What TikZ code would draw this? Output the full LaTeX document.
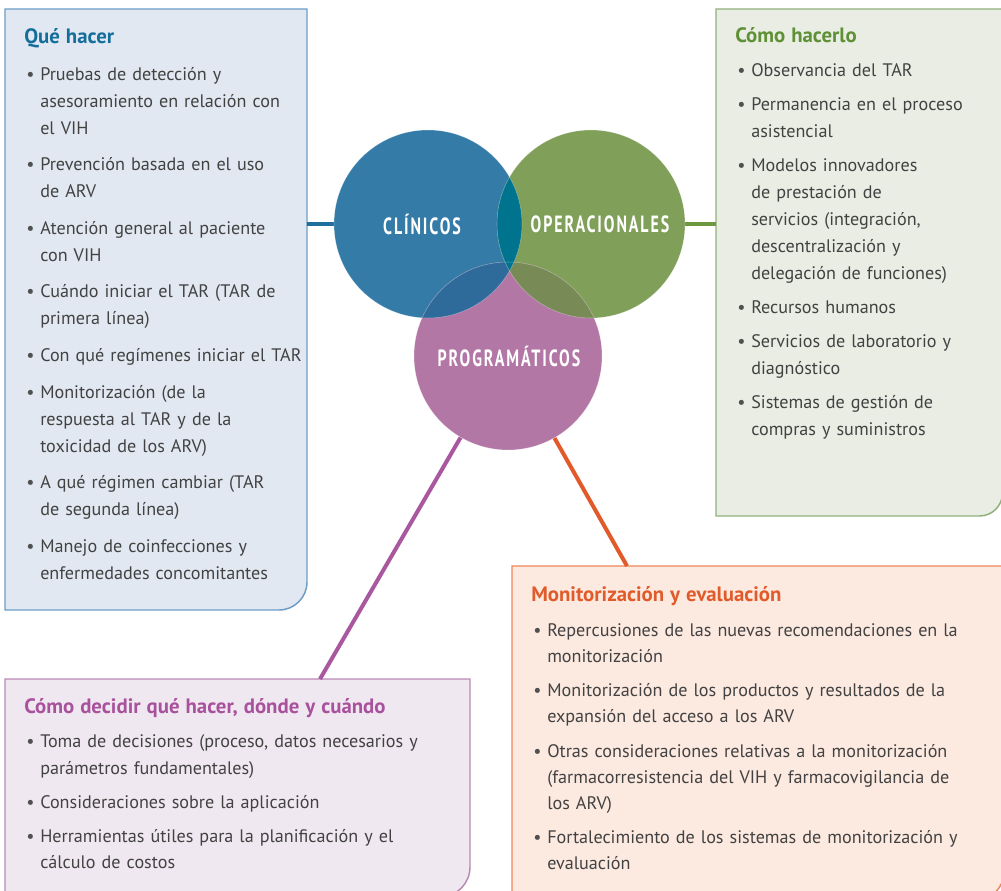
\documentclass[tikz,border=0pt]{standalone}
\usepackage{fontspec}
\setmainfont{PT Sans}
\newfontfamily\capsfont[LetterSpace=12]{PT Sans}
\usetikzlibrary{positioning}

\definecolor{txtgray}{HTML}{424242}
\definecolor{bulgray}{HTML}{505050}
\definecolor{qhfill}{HTML}{E1E8F1}
\definecolor{qhline}{HTML}{6C9DC6}
\definecolor{qhtitle}{HTML}{146E9C}
\definecolor{chfill}{HTML}{EAEDE4}
\definecolor{chline}{HTML}{8FB07C}
\definecolor{chtitle}{HTML}{5E9035}
\definecolor{mefill}{HTML}{FCE9E0}
\definecolor{meline}{HTML}{EE8759}
\definecolor{metitle}{HTML}{E15B2A}
\definecolor{cdfill}{HTML}{F0E8F0}
\definecolor{cdline}{HTML}{BA88B3}
\definecolor{cdtitle}{HTML}{A8519C}
\definecolor{clincol}{HTML}{357BA8}
\definecolor{opercol}{HTML}{809F58}
\definecolor{progcol}{HTML}{B377A6}
\definecolor{cgcol}{HTML}{00748E}
\definecolor{cpcol}{HTML}{2E6A9A}
\definecolor{gpcol}{HTML}{788A56}
\definecolor{linkblue}{HTML}{1F6E9E}
\definecolor{linkgreen}{HTML}{6E983F}
\definecolor{linkpurple}{HTML}{A9579F}
\definecolor{linkorange}{HTML}{E2592A}

\newlength\itmgap
\newcommand\ttl[2]{{\fontsize{15.6pt}{20pt}\selectfont\bfseries\textcolor{#1}{#2}}}
\newcommand\itm[1]{\par\vspace{\itmgap}\hangindent=12pt\hangafter=1\noindent
  \hbox to 12pt{\hspace{1.6pt}\textcolor{bulgray}{\textbullet}\hss}#1\par}
\newcommand\circtxt[2]{\scalebox{#1}[1]{#2}}

\begin{document}
\begin{tikzpicture}[x=0.75pt, y=0.75pt,
    circ/.style={circle, inner sep=0pt, minimum size=141pt},
    listtext/.style 2 args={anchor=base west, inner sep=0pt, text width=360pt,
        text=txtgray, font=\fontsize{13.6pt}{#1}\selectfont\setlength{\itmgap}{#2}},
    boxline/.style={line width=1.1pt},
    link/.style={line width=3pt},
    circlbl/.style={text=white, inner sep=0pt,
        font=\capsfont\bfseries\fontsize{17.6pt}{17.6pt}\selectfont},
]
\useasboundingbox (0,0) rectangle (1001,-891);

% ---- boxes ----
\filldraw[boxline, draw=qhline, fill=qhfill] (5,-9) -- (307,-9) -- (307,-582)
    arc[start angle=0, end angle=-90, radius=28] -- (5,-610) -- cycle;
\filldraw[boxline, draw=chline, fill=chfill] (716,-9) -- (1002.5,-9) -- (1002.5,-493)
    arc[start angle=0, end angle=-90, radius=23] -- (716,-516) -- cycle;
\filldraw[boxline, draw=meline, fill=mefill] (512,-566) -- (1004,-566) -- (1004,-872)
    arc[start angle=0, end angle=-90, radius=28] -- (512,-900) -- cycle;
\filldraw[boxline, draw=cdline, fill=cdfill] (5,-679) -- (470,-679) -- (470,-867)
    arc[start angle=0, end angle=-90, radius=30] -- (5,-897) -- cycle;

\coordinate (qhR) at (307,-224);
\coordinate (chL) at (716,-224);
\coordinate (cdT) at (320,-679);
\coordinate (meT) at (627,-566);

% ---- circles ----
\node[circ, fill=clincol] (clin) at (428,-224) {};
\node[circ, fill=opercol] (oper) at (591,-224) {};
\node[circ, fill=progcol] (prog) at (508,-356) {};

\draw[link, linkblue]   (qhR) -- (clin);
\draw[link, linkgreen]  (oper) -- (chL);
\draw[link, linkpurple] (prog) -- (cdT);
\draw[link, linkorange] (prog) -- (meT);

% overlaps
\begin{scope}
  \clip (clin.center) circle[radius=94];
  \fill[cgcol] (oper.center) circle[radius=94];
  \fill[cpcol] (prog.center) circle[radius=94];
\end{scope}
\begin{scope}
  \clip (oper.center) circle[radius=94];
  \fill[gpcol] (prog.center) circle[radius=94];
  \clip (clin.center) circle[radius=94];
  \fill[cgcol] (prog.center) circle[radius=94];
\end{scope}
\foreach \c in {clin,oper,prog}
  \draw[white, opacity=.35, line width=.4pt] (\c.center) circle[radius=94];

\node[circlbl] (clinlbl) at (422,-224) {\circtxt{0.68}{CLÍNICOS}};
\node[circlbl] (operlbl) at (600,-224) {\circtxt{0.68}{OPERACIONALES}};
\node[circlbl] (proglbl) at (509,-356) {\circtxt{0.68}{PROGRAMÁTICOS}};

% ---- lists ----
\node[listtext={20.25pt}{7.2pt}] (quehacer) at (24,-43.5) {\ttl{qhtitle}{Qué hacer}
  \itm{Pruebas de detección y\newline asesoramiento en relación con\newline el VIH}
  \itm{Prevención basada en el uso\newline de ARV}
  \itm{Atención general al paciente\newline con VIH}
  \itm{Cuándo iniciar el TAR (TAR de\newline primera línea)}
  \itm{Con qué regímenes iniciar el TAR}
  \itm{Monitorización (de la\newline respuesta al TAR y de la\newline toxicidad de los ARV)}
  \itm{A qué régimen cambiar (TAR\newline de segunda línea)}
  \itm{Manejo de coinfecciones y\newline enfermedades concomitantes}};

\node[listtext={20.25pt}{5.25pt}] (comohacer) at (735,-43) {\ttl{chtitle}{Cómo hacerlo}
  \itm{Observancia del TAR}
  \itm{Permanencia en el proceso\newline asistencial}
  \itm{Modelos innovadores\newline de prestación de\newline servicios (integración,\newline descentralización y\newline delegación de funciones)}
  \itm{Recursos humanos}
  \itm{Servicios de laboratorio y\newline diagnóstico}
  \itm{Sistemas de gestión de\newline compras y suministros}};

\node[listtext={19.5pt}{6.4pt}] (monitor) at (531,-601.5) {\ttl{metitle}{Monitorización y evaluación}
  \itm{Repercusiones de las nuevas recomendaciones en la\newline monitorización}
  \itm{Monitorización de los productos y resultados de la\newline expansión del acceso a los ARV}
  \itm{Otras consideraciones relativas a la monitorización\newline (farmacorresistencia del VIH y farmacovigilancia de\newline los ARV)}
  \itm{Fortalecimiento de los sistemas de monitorización y\newline evaluación}};

\node[listtext={20.25pt}{5.25pt}] (decidir) at (24,-713) {\ttl{cdtitle}{Cómo decidir qué hacer, dónde y cuándo}
  \itm{Toma de decisiones (proceso, datos necesarios y\newline parámetros fundamentales)}
  \itm{Consideraciones sobre la aplicación}
  \itm{Herramientas útiles para la planificación y el\newline cálculo de costos}};

\end{tikzpicture}
\end{document}
